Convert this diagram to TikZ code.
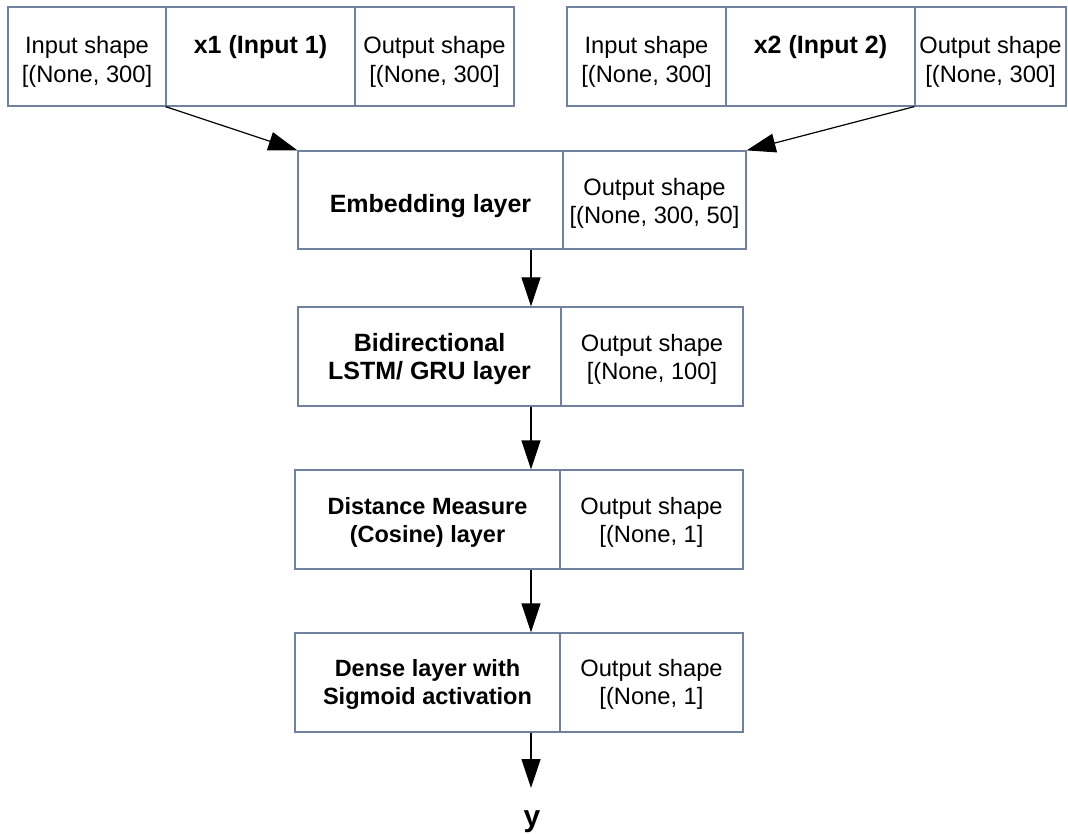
\documentclass[tikz,border=0pt]{standalone}
\usepackage{fontspec}
\setmainfont{Liberation Sans}
\usetikzlibrary{arrows.meta}
\definecolor{boxc}{RGB}{112,128,158}
\tikzset{
  cell/.style={draw=boxc, line width=1.2pt, minimum height=99pt, inner sep=0pt},
  txt/.style={inner sep=0pt, align=center, font=\fontsize{23.7}{28}\selectfont},
  txttop/.style={txt, font=\fontsize{23.7}{29.5}\selectfont},
  btxt/.style={txt, font=\fontsize{25}{28}\selectfont\bfseries},
  btxtsm/.style={txt, font=\fontsize{23.5}{28}\selectfont\bfseries},
  arr/.style={line width=1.2pt, -{Triangle[length=29pt,width=19pt]}},
}
\begin{document}
\begin{tikzpicture}[x=1pt,y=-1pt]
\useasboundingbox (0,0) rectangle (1068,834);
% boxes
\node[cell, minimum width=158pt] (in1a) at (87,56.5) {};
\node[cell, minimum width=189pt] (in1b) at (260.5,56.5) {};
\node[cell, minimum width=159pt] (in1c) at (434.5,56.5) {};
\node[cell, minimum width=159pt] (in2a) at (646.5,56.5) {};
\node[cell, minimum width=189pt] (in2b) at (820.5,56.5) {};
\node[cell, minimum width=151pt] (in2c) at (990.5,56.5) {};
\node[cell, minimum width=265pt, minimum height=98pt] (emb) at (430.5,200) {};
\node[cell, minimum width=183pt, minimum height=98pt] (embo) at (654.5,200) {};
\node[cell, minimum width=263pt] (lstm) at (429.5,356.5) {};
\node[cell, minimum width=182pt] (lstmo) at (652,356.5) {};
\node[cell, minimum width=265pt] (dist) at (427.5,519.5) {};
\node[cell, minimum width=183pt] (disto) at (651.5,519.5) {};
\node[cell, minimum width=265pt] (dense) at (427.5,682.5) {};
\node[cell, minimum width=183pt] (denseo) at (651.5,682.5) {};
% texts
\node[txttop] (in1a-t) at ([yshift=-5.5pt]in1a.center) {Input shape\\{}[(None, 300]};
\node[btxt] (in1b-t) at (260.5,47) {x1 (Input 1)};
\node[txttop] (in1c-t) at ([yshift=-5.5pt]in1c.center) {Output shape\\{}[(None, 300]};
\node[txttop] (in2a-t) at ([yshift=-5.5pt]in2a.center) {Input shape\\{}[(None, 300]};
\node[btxt] (in2b-t) at (820.5,47) {x2 (Input 2)};
\node[txttop] (in2c-t) at ([yshift=-5.5pt]in2c.center) {Output shape\\{}[(None, 300]};
\node[btxt] (emb-t) at ([yshift=-6pt]emb.center) {Embedding layer};
\node[txt] (embo-t) at ([yshift=-3.5pt]embo.center) {Output shape\\{}[(None, 300, 50]};
\node[btxt] (lstm-t) at ([yshift=-2.5pt]lstm.center) {Bidirectional\\LSTM/ GRU layer};
\node[txt] (lstmo-t) at ([yshift=-2.5pt]lstmo.center) {Output shape\\{}[(None, 100]};
\node[btxtsm] (dist-t) at ([yshift=-2.5pt]dist.center) {Distance Measure\\(Cosine) layer};
\node[txt] (disto-t) at ([yshift=-2.5pt]disto.center) {Output shape\\{}[(None, 1]};
\node[btxtsm] (dense-t) at ([yshift=-2pt]dense.center) {Dense layer with\\Sigmoid activation};
\node[txt] (denseo-t) at ([yshift=-2pt]denseo.center) {Output shape\\{}[(None, 1]};
% output
\node[font=\fontsize{30}{32}\selectfont\bfseries, inner sep=0pt] (y) at (532,822) {y};
\coordinate (spine) at (531,0);
\coordinate (ytip) at (531,788);
% connectors
\draw[arr] (in1b.south west) -- (emb.north west);
\draw[arr] (in2c.south west) -- (embo.north east);
\draw[arr] (emb.south -| spine) -- (lstm.north -| spine);
\draw[arr] (lstm.south -| spine) -- (dist.north -| spine);
\draw[arr] (dist.south -| spine) -- (dense.north -| spine);
\draw[arr] (dense.south -| spine) -- (ytip);
\end{tikzpicture}
\end{document}
